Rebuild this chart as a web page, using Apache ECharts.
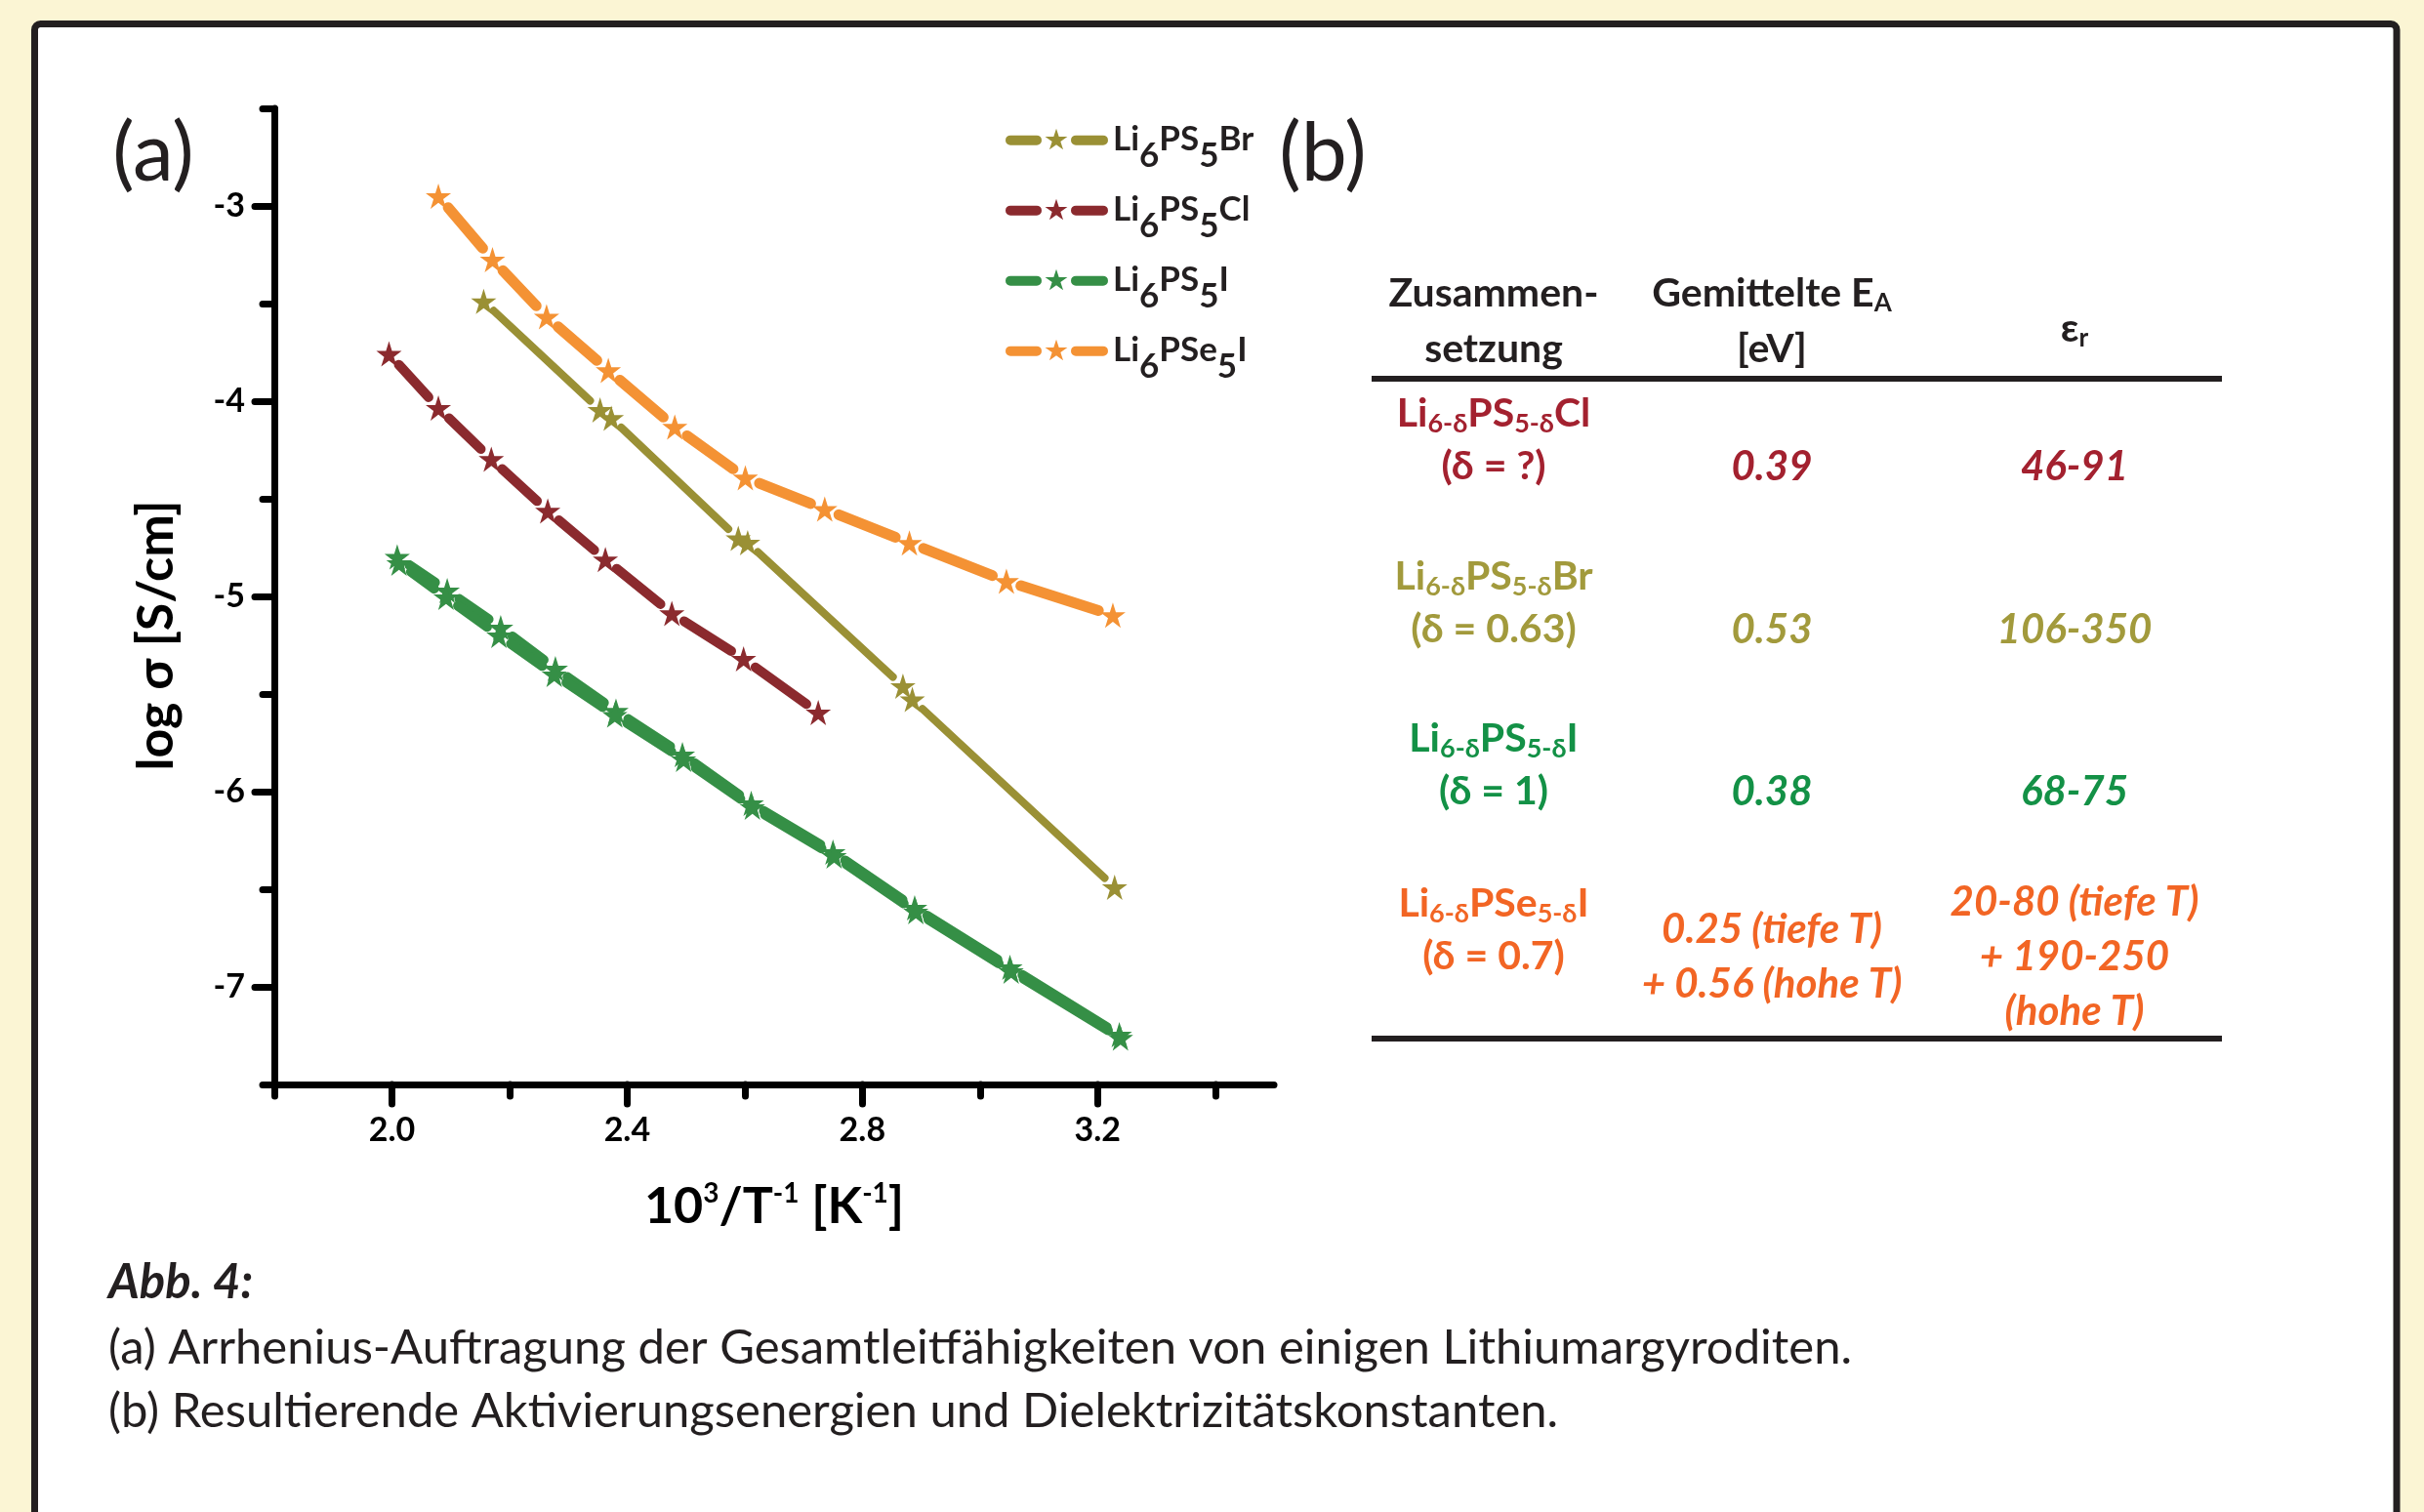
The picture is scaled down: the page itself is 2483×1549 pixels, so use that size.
<!DOCTYPE html>
<html><head><meta charset="utf-8">
<script src="https://cdn.jsdelivr.net/npm/echarts@6/dist/echarts.min.js"></script>
<style>html,body{margin:0;padding:0;background:#fbf5d4;}#c{width:2483px;height:1549px;}</style>
</head><body><div id="c"></div>
<script>
// ---------- data ----------
const legendNames = ['Li6PS5Br', 'Li6PS5Cl', 'Li6PS5I', 'Li6PSe5I'];
const brX = [2.156, 2.354, 2.373, 2.589, 2.605, 2.869, 2.885, 3.229];
const brY = [-3.489, -4.045, -4.087, -4.703, -4.725, -5.460, -5.528, -6.490];
const clX = [1.995, 2.079, 2.169, 2.265, 2.363, 2.476, 2.598, 2.725];
const clY = [-3.758, -4.035, -4.297, -4.562, -4.811, -5.087, -5.320, -5.595];
const iX  = [2.009, 2.094, 2.185, 2.278, 2.381, 2.494, 2.611, 2.750, 2.889, 3.051, 3.237];
const iY  = [-4.798, -4.970, -5.160, -5.370, -5.587, -5.810, -6.060, -6.310, -6.595, -6.900, -7.245];
const i2X = [2.012, 2.092, 2.182, 2.276, 2.379, 2.496, 2.613, 2.752, 2.891, 3.053, 3.239];
const i2Y = [-4.830, -5.005, -5.200, -5.400, -5.608, -5.835, -6.080, -6.330, -6.615, -6.920, -7.262];
const seX = [2.079, 2.171, 2.263, 2.368, 2.481, 2.601, 2.736, 2.880, 3.045, 3.226];
const seY = [-2.950, -3.275, -3.568, -3.842, -4.132, -4.392, -4.553, -4.726, -4.922, -5.096];

const xMajorTicks = [2.0, 2.4, 2.8, 3.2];
const xMinorTicks = [1.8, 2.2, 2.6, 3.0, 3.4];
const yMajorTicks = [-7, -6, -5, -4, -3];
const yMinorTicks = [-7.5, -6.5, -5.5, -4.5, -3.5, -2.5];

// table (b)
const tabHalides   = ['Cl', 'Br', 'I', 'I'];
const tabChalcogen = ['S', 'S', 'S', 'Se'];
const tabDelta     = ['(δ = ?)', '(δ = 0.63)', '(δ = 1)', '(δ = 0.7)'];
const tabEA        = ['0.39', '0.53', '0.38', '0.25 (tiefe T)\n+ 0.56 (hohe T)'];
const tabEps       = ['46-91', '106-350', '68-75', '20-80 (tiefe T)\n+ 190-250\n(hohe T)'];
const captionTitle = 'Abb. 4:';
const captionLines = ['(a) Arrhenius-Auftragung der Gesamtleitfähigkeiten von einigen Lithiumargyroditen.',
                      '(b) Resultierende Aktivierungsenergien und Dielektrizitätskonstanten.'];

// ---------- styles ----------
const FONT = 'Lato, "Open Sans", sans-serif';
const INK = '#231f20';
const C_BR = '#9a9035', C_CL = '#8b2a2e', C_I = '#358f46', C_SE = '#f49234';
const T_CL = '#a3212f', T_BR = '#a29a3c', T_I = '#139146', T_SE = '#f26524';
const tabColors = [T_CL, T_BR, T_I, T_SE];
const STAR = 'path://M50 0 L61.23 34.55 L97.55 34.55 L68.17 55.9 L79.39 90.45 L50 69.1 L20.61 90.45 L31.83 55.9 L2.45 34.55 L38.77 34.55 Z';
const LEGEND_ICON = 'path://M5 7 L32 7 A5 5 0 0 1 32 17 L5 17 A5 5 0 0 1 5 7 Z ' +
  'M52 0 L54.69 8.29 L63.41 8.29 L56.36 13.42 L59.05 21.71 L52 16.58 L44.95 21.71 L47.64 13.42 L40.59 8.29 L49.31 8.29 Z ' +
  'M72 7 L100 7 A5 5 0 0 1 100 17 L72 17 A5 5 0 0 1 72 7 Z';

function pairs(xs, ys) { return xs.map((x, i) => [x, ys[i]]); }
function segs(xs, ys) { const o = []; for (let i = 0; i < xs.length - 1; i++) o.push([xs[i], ys[i], xs[i + 1], ys[i + 1]]); return o; }

function lineSeries(name, xs, ys, color, width) {
  const gap = 10 + width / 2;
  return {
    type: 'custom', name: name, coordinateSystem: 'cartesian2d', data: segs(xs, ys),
    encode: { x: [0, 2], y: [1, 3] }, z: 2, silent: true,
    renderItem: function (params, api) {
      const p0 = api.coord([api.value(0), api.value(1)]);
      const p1 = api.coord([api.value(2), api.value(3)]);
      const dx = p1[0] - p0[0], dy = p1[1] - p0[1];
      const len = Math.hypot(dx, dy);
      if (len <= 2 * gap + 1) return null;
      const ux = dx / len, uy = dy / len;
      return { type: 'line',
        shape: { x1: p0[0] + ux * gap, y1: p0[1] + uy * gap, x2: p1[0] - ux * gap, y2: p1[1] - uy * gap },
        style: { stroke: color, lineWidth: width, lineCap: 'round' } };
    }
  };
}
function starSeries(name, xs, ys, color) {
  return { type: 'scatter', name: name, data: pairs(xs, ys), symbol: STAR, symbolSize: 26,
    itemStyle: { color: color, opacity: 1 }, z: 3, silent: true };
}

const legendRich = {
  'Li6PS5Br': '{m|Li}{s|6}{m|PS}{s|5}{m|Br}',
  'Li6PS5Cl': '{m|Li}{s|6}{m|PS}{s|5}{m|Cl}',
  'Li6PS5I':  '{m|Li}{s|6}{m|PS}{s|5}{m|I}',
  'Li6PSe5I': '{m|Li}{s|6}{m|PSe}{s|5}{m|I}'
};

const axisLineStyle = { color: '#000', width: 7, cap: 'round' };
const tickLabel = { fontSize: 34, fontWeight: 'bold', color: '#000', fontFamily: FONT };

// ---------- graphic (frame, panel labels, table, caption) ----------
const g = [];
g.push({ type: 'rect', z: -100, shape: { x: 35.5, y: 24.5, width: 2419.5, height: 1600, r: 6 },
  style: { fill: '#ffffff', stroke: INK, lineWidth: 7 } });
g.push({ type: 'text', x: 157, y: 158, style: { text: '(a)', font: 'normal 84px ' + FONT, fill: INK, align: 'center', verticalAlign: 'middle' } });
g.push({ type: 'text', x: 1355, y: 158, style: { text: '(b)', font: 'normal 84px ' + FONT, fill: INK, align: 'center', verticalAlign: 'middle' } });

const colX = [1530, 1815, 2125];
const tabRich = {
  h:  { fontSize: 41, fontWeight: 'bold', fontFamily: FONT, lineHeight: 50 },
  hs: { fontSize: 26, fontWeight: 'bold', fontFamily: FONT, lineHeight: 26, padding: [20, 0, 0, 0] }
};
function richFor(color) {
  return {
    f:  { fontSize: 41, fontWeight: 'bold', fontFamily: FONT, lineHeight: 50, color: color },
    sb: { fontSize: 27, fontWeight: 'bold', fontFamily: FONT, lineHeight: 27, padding: [20, 0, 0, 0], color: color }
  };
}
g.push({ type: 'line', shape: { x1: 1405, y1: 388, x2: 2276, y2: 388 }, style: { stroke: INK, lineWidth: 6 } });
g.push({ type: 'line', shape: { x1: 1405, y1: 1064, x2: 2276, y2: 1064 }, style: { stroke: INK, lineWidth: 6 } });
g.push({ type: 'text', x: colX[0], y: 301, style: { text: 'Zusammen-', font: 'bold 41px ' + FONT, fill: INK, align: 'center', verticalAlign: 'middle' } });
g.push({ type: 'text', x: colX[0], y: 358, style: { text: 'setzung', font: 'bold 41px ' + FONT, fill: INK, align: 'center', verticalAlign: 'middle' } });
g.push({ type: 'text', x: colX[1], y: 301, style: { text: '{h|Gemittelte E}{hs|A}', rich: tabRich, fill: INK, align: 'center', verticalAlign: 'middle' } });
g.push({ type: 'text', x: colX[1], y: 358, style: { text: '[eV]', font: 'bold 41px ' + FONT, fill: INK, align: 'center', verticalAlign: 'middle' } });
g.push({ type: 'text', x: colX[2], y: 337, style: { text: '{h|ε}{hs|r}', rich: tabRich, fill: INK, align: 'center', verticalAlign: 'middle' } });

const rowValueY = [478, 645, 811, 980];
for (let r = 0; r < 4; r++) {
  const col = tabColors[r];
  const formula = '{f|Li}{sb|6-δ}{f|P' + tabChalcogen[r] + '}{sb|5-δ}{f|' + tabHalides[r] + '}';
  g.push({ type: 'text', x: colX[0], y: rowValueY[r] - 54, style: { text: formula, rich: richFor(col), fill: col, align: 'center', verticalAlign: 'middle' } });
  g.push({ type: 'text', x: colX[0], y: rowValueY[r], style: { text: tabDelta[r], font: 'bold 41px ' + FONT, fill: col, align: 'center', verticalAlign: 'middle' } });
  g.push({ type: 'text', x: colX[1], y: rowValueY[r], style: { text: tabEA[r], font: 'italic bold 42px ' + FONT, lineHeight: 56, fill: col, align: 'center', verticalAlign: 'middle' } });
  g.push({ type: 'text', x: colX[2], y: rowValueY[r], style: { text: tabEps[r], font: 'italic bold 42px ' + FONT, lineHeight: 56, fill: col, align: 'center', verticalAlign: 'middle' } });
}
g.push({ type: 'text', x: 111, y: 1314, style: { text: captionTitle, font: 'italic bold 49px ' + FONT, fill: INK, align: 'left', verticalAlign: 'middle' } });
g.push({ type: 'text', x: 111, y: 1381, style: { text: captionLines[0], font: 'normal 49px ' + FONT, fill: INK, align: 'left', verticalAlign: 'middle' } });
g.push({ type: 'text', x: 111, y: 1446, style: { text: captionLines[1], font: 'normal 49px ' + FONT, fill: INK, align: 'left', verticalAlign: 'middle' } });

// ---------- chart ----------
const chart = echarts.init(document.getElementById('c'), null, { renderer: 'canvas', width: 2483, height: 1549 });
chart.setOption({
  animation: false,
  backgroundColor: '#fbf5d4',
  grid: { left: 281, top: 111, width: 1024, height: 1000 },
  legend: {
    data: legendNames, orient: 'vertical', left: 1030, top: 108, padding: 0, itemGap: 3,
    itemWidth: 105, itemHeight: 22, icon: LEGEND_ICON, selectedMode: false,
    formatter: function (n) { return legendRich[n]; },
    textStyle: { rich: {
      m: { fontSize: 35, fontWeight: 'bold', fontFamily: FONT, color: INK, lineHeight: 38 },
      s: { fontSize: 35, fontWeight: 'bold', fontFamily: FONT, color: INK, lineHeight: 38, padding: [34, 0, 0, 0] }
    } }
  },
  xAxis: [
    { type: 'value', min: 1.8, max: 3.5, interval: 0.2, position: 'bottom',
      axisLine: { show: true, onZero: false, lineStyle: axisLineStyle },
      axisTick: { show: true, customValues: xMajorTicks, length: 20, lineStyle: axisLineStyle },
      axisLabel: Object.assign({ customValues: xMajorTicks, margin: 30, formatter: v => v.toFixed(1) }, tickLabel),
      splitLine: { show: false },
      name: '{m|10}{p|3}{m|/T}{p|-1}{m| [K}{p|-1}{m|]}', nameLocation: 'middle', nameGap: 95,
      nameTextStyle: { rich: {
        m: { fontSize: 52, fontWeight: 'bold', fontFamily: FONT, color: '#000', lineHeight: 60 },
        p: { fontSize: 28, fontWeight: 'bold', fontFamily: FONT, color: '#000', lineHeight: 28, padding: [0, 0, 26, 0] }
      } } },
    { type: 'value', min: 1.8, max: 3.5, interval: 0.2, position: 'bottom',
      axisLine: { show: false }, axisLabel: { show: false }, splitLine: { show: false },
      axisTick: { show: true, customValues: xMinorTicks, length: 12, lineStyle: axisLineStyle } }
  ],
  yAxis: [
    { type: 'value', min: -7.5, max: -2.5, interval: 0.5, position: 'left',
      axisLine: { show: true, onZero: false, lineStyle: axisLineStyle },
      axisTick: { show: true, customValues: yMajorTicks, length: 20, lineStyle: axisLineStyle },
      axisLabel: Object.assign({ customValues: yMajorTicks, margin: 30 }, tickLabel),
      splitLine: { show: false },
      name: 'log σ [S/cm]', nameLocation: 'middle', nameGap: 95, nameRotate: 90,
      nameTextStyle: { fontSize: 52, fontWeight: 'bold', fontFamily: FONT, color: '#000', padding: [0, 80, 0, 0] } },
    { type: 'value', min: -7.5, max: -2.5, interval: 0.5, position: 'left',
      axisLine: { show: false }, axisLabel: { show: false }, splitLine: { show: false },
      axisTick: { show: true, customValues: yMinorTicks, length: 12, lineStyle: axisLineStyle } }
  ],
  series: [
    lineSeries('Br-line', brX, brY, C_BR, 8),
    lineSeries('Cl-line', clX, clY, C_CL, 10),
    lineSeries('I-line', iX, iY, C_I, 10),
    lineSeries('I-line-2', i2X, i2Y, C_I, 10),
    lineSeries('Se-line', seX, seY, C_SE, 11),
    starSeries('Li6PS5Br', brX, brY, C_BR),
    starSeries('Li6PS5Cl', clX, clY, C_CL),
    starSeries('Li6PS5I', iX, iY, C_I),
    starSeries('Li6PS5I-2', i2X, i2Y, C_I),
    starSeries('Li6PSe5I', seX, seY, C_SE)
  ],
  graphic: { elements: g }
});
</script>
</body></html>
